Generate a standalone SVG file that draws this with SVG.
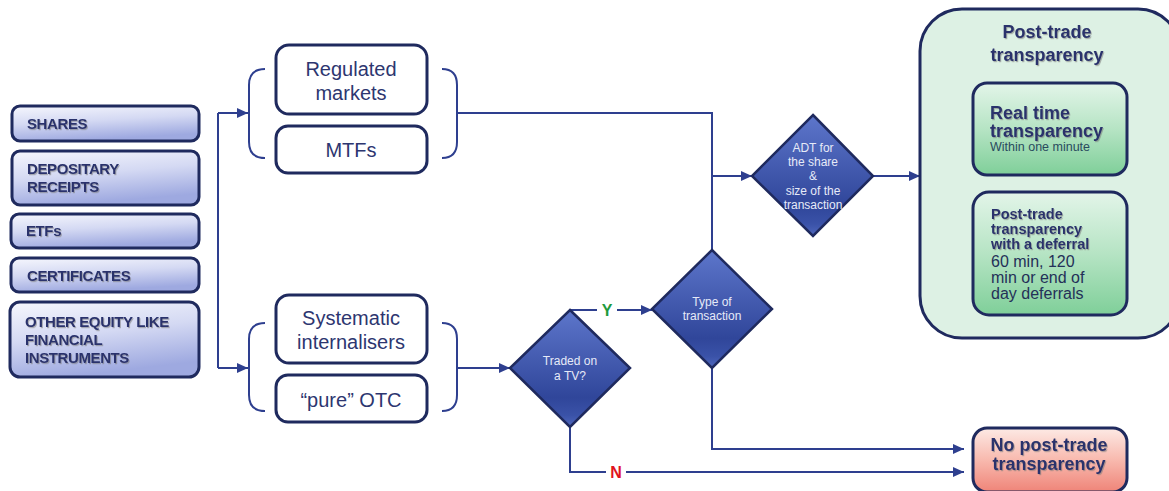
<svg xmlns="http://www.w3.org/2000/svg" width="1169" height="491" viewBox="0 0 1169 491">
<style>
.lbox{stroke:#1f2a5e;stroke-width:3;fill:url(#gLeft)}
.ltxt{font-family:"Liberation Sans",Arial,sans-serif;font-weight:bold;font-size:15px;fill:#29326c;letter-spacing:-0.4px;filter:url(#sh)}
.mbox{stroke:#1f2a5e;stroke-width:3;fill:#ffffff}
.mtxt{font-family:"Liberation Sans",Arial,sans-serif;font-size:20px;fill:#2d3670;text-anchor:middle}
.brace{fill:none;stroke:#2e3f8f;stroke-width:2}
.dia{fill:url(#gDia);stroke:#1f2a5e;stroke-width:2.5}
.dtxt{font-family:"Liberation Sans",Arial,sans-serif;font-size:12px;fill:#e6eaf8;text-anchor:middle}
.conn{fill:none;stroke:#2e3f8f;stroke-width:2}
.btxt{font-family:"Liberation Sans",Arial,sans-serif;font-weight:bold;fill:#29326c;filter:url(#sh)}
</style>
<defs>
<linearGradient id="gLeft" x1="0" y1="0" x2="0.3" y2="1">
<stop offset="0" stop-color="#f6f7fd"/>
<stop offset="0.5" stop-color="#d4d9f3"/>
<stop offset="1" stop-color="#9ea9e0"/>
</linearGradient>
<linearGradient id="gDia" x1="0" y1="0" x2="0" y2="1">
<stop offset="0" stop-color="#5d76cb"/>
<stop offset="0.75" stop-color="#30469a"/>
<stop offset="0.9" stop-color="#3a52a8"/>
<stop offset="1" stop-color="#5068bd"/>
</linearGradient>
<linearGradient id="gGreen" x1="0" y1="0" x2="0" y2="1">
<stop offset="0" stop-color="#e3f5e9"/>
<stop offset="0.5" stop-color="#b6e4c4"/>
<stop offset="1" stop-color="#7fcf99"/>
</linearGradient>
<linearGradient id="gRed" x1="0" y1="0" x2="0" y2="1">
<stop offset="0" stop-color="#fdeae5"/>
<stop offset="0.5" stop-color="#f8b9ae"/>
<stop offset="1" stop-color="#ef8478"/>
</linearGradient>
<filter id="sh" x="-10%" y="-20%" width="130%" height="160%">
<feDropShadow dx="1" dy="1.2" stdDeviation="0.7" flood-color="#777" flood-opacity="0.55"/>
</filter>
<marker id="arr" markerUnits="userSpaceOnUse" markerWidth="12" markerHeight="10" refX="11" refY="5" orient="auto">
<path d="M0,0 L11,5 L0,10 z" fill="#2e3f8f"/>
</marker>
</defs>

<g id="connectors">
<path class="conn" d="M218,113 V368"/>
<path class="conn" d="M218,113 H248" marker-end="url(#arr)"/>
<path class="conn" d="M218,368 H248" marker-end="url(#arr)"/>
<path class="conn" d="M457,113 H712 V250"/>
<path class="conn" d="M712,176 H752" marker-end="url(#arr)"/>
<path class="conn" d="M873,176 H920" marker-end="url(#arr)"/>
<path class="conn" d="M457,368 H510" marker-end="url(#arr)"/>
<path class="conn" d="M570,310 H652" marker-end="url(#arr)"/>
<path class="conn" d="M712,368 V449 H964" marker-end="url(#arr)"/>
<path class="conn" d="M570,427 V472 H964" marker-end="url(#arr)"/>
<rect x="597" y="299" width="20" height="22" fill="#ffffff"/>
<text x="607" y="316" text-anchor="middle" font-family="Liberation Sans,Arial,sans-serif" font-weight="bold" font-size="16" fill="#1f9a3c">Y</text>
<rect x="606" y="461" width="20" height="22" fill="#ffffff"/>
<text x="616" y="478" text-anchor="middle" font-family="Liberation Sans,Arial,sans-serif" font-weight="bold" font-size="16" fill="#e0141e">N</text>
</g>

<g id="shares">
<rect class="lbox" x="12" y="106" width="187" height="35" rx="8"/>
<text class="ltxt" x="27" y="129">SHARES</text>
</g>
<g id="depositary">
<rect class="lbox" x="12" y="151" width="187" height="54" rx="8"/>
<text class="ltxt" x="27" y="174">DEPOSITARY</text>
<text class="ltxt" x="27" y="192">RECEIPTS</text>
</g>
<g id="etfs">
<rect class="lbox" x="11" y="214" width="188" height="34" rx="8"/>
<text class="ltxt" x="26" y="236">ETFs</text>
</g>
<g id="certificates">
<rect class="lbox" x="11" y="258" width="188" height="34" rx="8"/>
<text class="ltxt" x="27" y="281">CERTIFICATES</text>
</g>
<g id="other">
<rect class="lbox" x="10" y="302" width="189" height="75" rx="10"/>
<text class="ltxt" x="25" y="327">OTHER EQUITY LIKE</text>
<text class="ltxt" x="25" y="345">FINANCIAL</text>
<text class="ltxt" x="25" y="363">INSTRUMENTS</text>
</g>

<g id="venues">
<path class="brace" d="M265,69 Q249,69 249,85 L249,142 Q249,158 265,158"/>
<path class="brace" d="M442,69 Q457,69 457,85 L457,142 Q457,158 442,158"/>
</g>
<g id="regulated">
<rect class="mbox" x="276" y="45" width="151" height="69" rx="13"/>
<text class="mtxt" x="351" y="76">Regulated</text>
<text class="mtxt" x="351" y="100">markets</text>
</g>
<g id="mtfs">
<rect class="mbox" x="276" y="126" width="151" height="47" rx="12"/>
<text class="mtxt" x="351" y="157">MTFs</text>
</g>

<g id="otc">
<path class="brace" d="M265,323 Q249,323 249,339 L249,395 Q249,411 265,411"/>
<path class="brace" d="M442,323 Q457,323 457,339 L457,395 Q457,411 442,411"/>
</g>
<g id="si">
<rect class="mbox" x="276" y="295" width="151" height="68" rx="13"/>
<text class="mtxt" x="351" y="325">Systematic</text>
<text class="mtxt" x="351" y="349">internalisers</text>
</g>
<g id="pureotc">
<rect class="mbox" x="276" y="375" width="151" height="47" rx="12"/>
<text class="mtxt" x="351" y="407">“pure” OTC</text>
</g>

<g id="traded">
<polygon class="dia" points="570,310 630,368 570,427 510,368"/>
<text class="dtxt" x="570" y="365">Traded on</text>
<text class="dtxt" x="570" y="380">a TV?</text>
</g>
<g id="type">
<polygon class="dia" points="712,250 772,309 712,368 652,309"/>
<text class="dtxt" x="712" y="306">Type of</text>
<text class="dtxt" x="712" y="320">transaction</text>
</g>
<g id="adt">
<polygon class="dia" points="813,115 873,176 813,236 752,176"/>
<text class="dtxt" x="813" y="152">ADT for</text>
<text class="dtxt" x="813" y="166">the share</text>
<text class="dtxt" x="813" y="180">&amp;</text>
<text class="dtxt" x="813" y="195">size of the</text>
<text class="dtxt" x="813" y="209">transaction</text>
</g>

<g id="posttrade">
<rect x="920" y="9" width="260" height="329" rx="42" fill="#ddf1e4" stroke="#1f2a5e" stroke-width="3"/>
<text class="btxt" x="1047" y="38" font-size="18" text-anchor="middle">Post-trade</text>
<text class="btxt" x="1047" y="61" font-size="18" text-anchor="middle">transparency</text>
</g>
<g id="realtime">
<rect x="973" y="83" width="154" height="92" rx="14" fill="url(#gGreen)" stroke="#1f2a5e" stroke-width="3"/>
<text class="btxt" x="990" y="119" font-size="18">Real time</text>
<text class="btxt" x="990" y="137" font-size="18">transparency</text>
<text x="990" y="151" font-family="Liberation Sans,Arial,sans-serif" font-size="12.5" fill="#2a4b5e">Within one minute</text>
</g>
<g id="deferral">
<rect x="973" y="192" width="154" height="123" rx="16" fill="url(#gGreen)" stroke="#1f2a5e" stroke-width="3"/>
<text class="btxt" x="991" y="219" font-size="14.5">Post-trade</text>
<text class="btxt" x="991" y="234" font-size="14.5">transparency</text>
<text class="btxt" x="991" y="249" font-size="14.5">with a deferral</text>
<g font-family="Liberation Sans,Arial,sans-serif" font-size="16" fill="#243058">
<text x="991" y="267">60 min, 120</text>
<text x="991" y="283">min or end of</text>
<text x="991" y="299">day deferrals</text>
</g>
</g>
<g id="nopost">
<rect x="973" y="428" width="154" height="64" rx="14" fill="url(#gRed)" stroke="#1f2a5e" stroke-width="3"/>
<text class="btxt" x="1049" y="451" font-size="18" text-anchor="middle">No post-trade</text>
<text class="btxt" x="1049" y="470" font-size="18" text-anchor="middle">transparency</text>
</g>
</svg>
